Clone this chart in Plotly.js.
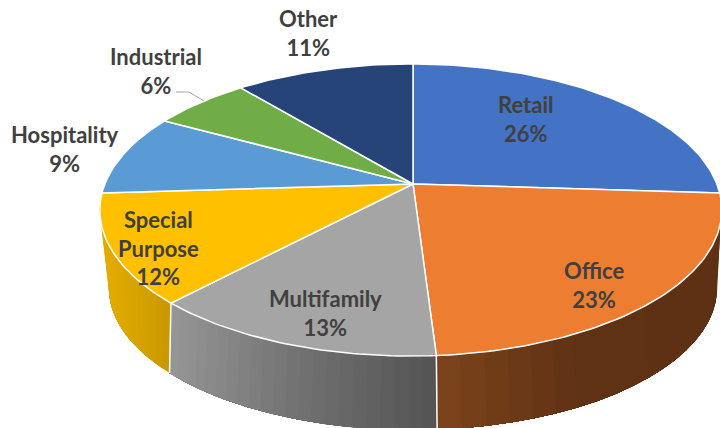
<!DOCTYPE html>
<html>
<head>
<meta charset="utf-8">
<script src="https://cdn.plot.ly/plotly-3.0.1.min.js"></script>
<style>html,body{margin:0;padding:0;background:#fff}#chart{width:720px;height:428px}</style>
</head>
<body>
<div id="chart"></div>
<script>
// Portfolio share by property type, drawn as a tilted pie with a side wall.
const categories = ['Retail', 'Office', 'Multifamily', 'Special<br>Purpose', 'Hospitality', 'Industrial', 'Other'];
const shares = [26, 23, 13, 12, 9, 6, 11];
const topColors = ['#4472C4', '#ED7D31', '#A5A5A5', '#FFC000', '#5B9BD5', '#70AD47', '#264478'];
// Left-to-right wall shading per slice (slices with no visible wall have none).
const wallStops = [null, [[125,68,28],[96,50,20],[94,49,20]], [[150,150,150],[112,112,112],[84,84,84]], [[226,172,0],[214,162,0],[200,152,0]], null, null, null];
const labelX = [525, 594, 325, 158, 65, 156, 308];
const labelY = [119, 285, 313, 248, 149, 71, 33];
const leaderX = [176, 189, 204];
const leaderY = [92, 92, 101];

// Projection of the unit disc onto the page.
// f/g: horizontal and vertical radius, k/kx: foreshortening along depth and width, cy: centre height.
const topPlane = {f: 306, k: 0.178, kx: 0.007, g: 141.4, cy: 184};
const basePlane = {f: 296, k: 0.23, kx: 0, g: 134.8, cy: 255};
const cx = 413;

function project(deg, plane) {
  const a = deg * Math.PI / 180;
  const X = Math.sin(a), Y = Math.cos(a), d = 1 + plane.k * Y + plane.kx * X;
  return [cx + plane.f * X / d, plane.cy - plane.g * Y / d];
}
function range(a, b, n) {
  const out = [];
  for (let i = 0; i <= n; i++) out.push(a + (b - a) * i / n);
  return out;
}
function mix(stops, t) {
  const p = t * (stops.length - 1), i = Math.min(Math.floor(p), stops.length - 2), u = p - i;
  const c = stops[i].map((v, j) => Math.round(v + (stops[i + 1][j] - v) * u));
  return `rgb(${c[0]},${c[1]},${c[2]})`;
}

const total = shares.reduce((s, v) => s + v, 0);
let running = 0;
const spans = shares.map(v => {
  const a = running / total * 360; running += v;
  return [a, running / total * 360];
});

const traces = [];
const base = {mode: 'lines', hoverinfo: 'skip', showlegend: false, type: 'scatter'};

// Side wall: each strip reaches to the end of its slice and the next paints over it,
// so no hairline shows between neighbouring shades.
spans.forEach((sp, i) => {
  const stops = wallStops[i];
  if (!stops) return;
  const steps = 22;
  const angles = range(sp[0], sp[1], steps);
  const xs = angles.map(a => project(a, basePlane)[0]);
  const lo = Math.min(...xs), hi = Math.max(...xs);
  for (let s = 0; s < steps; s++) {
    const sweep = angles.slice(s);
    const upper = sweep.map(a => project(a, topPlane));
    const lower = sweep.map(a => project(a, basePlane)).reverse();
    const ring = upper.concat(lower, [upper[0]]);
    const t = ((xs[s] + xs[s + 1]) / 2 - lo) / (hi - lo);
    traces.push(Object.assign({}, base, {
      x: ring.map(p => p[0]), y: ring.map(p => p[1]),
      fill: 'toself', fillcolor: mix(stops, t), line: {width: 0}
    }));
  }
});

// White seams where two wall sections meet.
spans.forEach((sp, i) => {
  if (!wallStops[i] || !wallStops[i + 1]) return;
  const a = project(sp[1], topPlane), b = project(sp[1], basePlane);
  traces.push(Object.assign({}, base, {x: [a[0], b[0]], y: [a[1], b[1]], line: {color: '#fff', width: 1.5}}));
});

// Top face of every slice.
spans.forEach((sp, i) => {
  const arc = range(sp[0], sp[1], Math.ceil(sp[1] - sp[0])).map(a => project(a, topPlane));
  const x = [cx].concat(arc.map(p => p[0]), [cx]);
  const y = [topPlane.cy].concat(arc.map(p => p[1]), [topPlane.cy]);
  traces.push(Object.assign({}, base, {x, y, fill: 'toself', fillcolor: topColors[i], line: {color: '#fff', width: 1.5}}));
});

// Leader line for the Industrial label.
traces.push(Object.assign({}, base, {x: leaderX, y: leaderY, line: {color: '#A6A6A6', width: 1}}));

const annotations = categories.map((c, i) => ({
  x: labelX[i], y: labelY[i], xref: 'x', yref: 'y', showarrow: false,
  text: c + '<br>' + shares[i] + '%',
  align: 'center', xanchor: 'center', yanchor: 'middle',
  font: {family: 'Lato, sans-serif', size: 22, color: '#404040', weight: 700}
}));

const hidden = {visible: false, fixedrange: true, showgrid: false, zeroline: false};
Plotly.newPlot('chart', traces, {
  width: 720, height: 428,
  margin: {l: 0, r: 0, t: 0, b: 0},
  paper_bgcolor: '#fff', plot_bgcolor: '#fff',
  showlegend: false,
  xaxis: Object.assign({range: [0, 720]}, hidden),
  yaxis: Object.assign({range: [428, 0]}, hidden),
  annotations
}, {staticPlot: true, displayModeBar: false});
</script>
</body>
</html>
